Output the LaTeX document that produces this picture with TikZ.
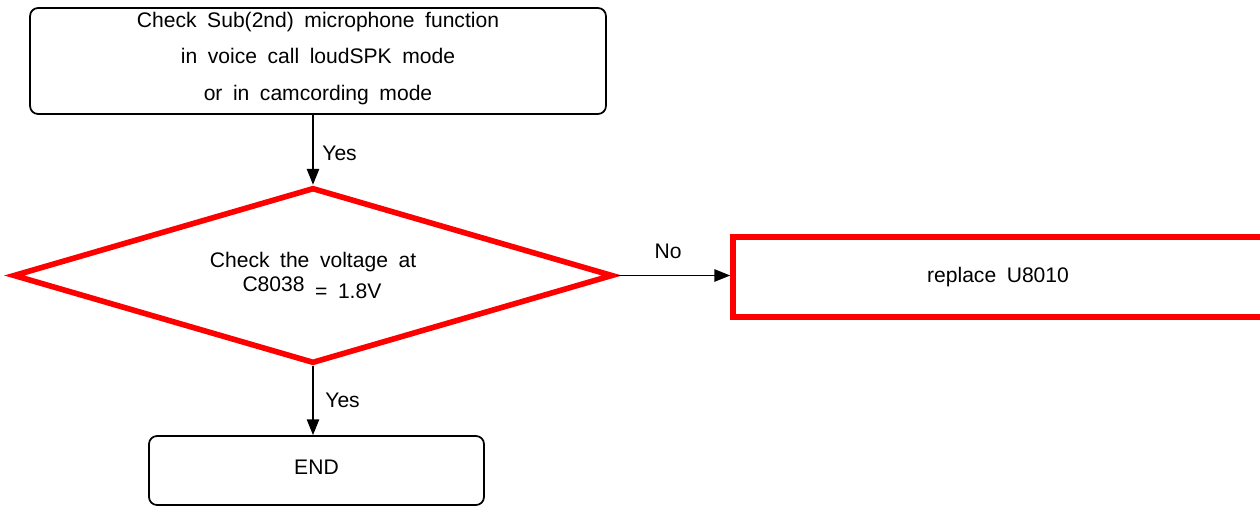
\documentclass[tikz,border=0pt]{standalone}
\usepackage{fontspec}
\setmainfont{Liberation Sans}
\usetikzlibrary{shapes.geometric,arrows.meta}
\newcommand\myfnt{\fontsize{12}{13.5}\selectfont\spaceskip 0.5em\relax}
\tikzset{
  base/.style={font=\myfnt, inner sep=0pt},
  roundbox/.style={base, draw=black, line width=1pt, rounded corners=0.16cm, align=center},
  redbox/.style={base, draw=red, line width=3.2pt},
  reddia/.style={base, diamond, draw=red, line width=3.2pt, aspect=3.48, align=center},
  arr/.style={draw=black, line width=0.9pt, -{Triangle[length=9pt,width=7pt]}},
  lbl/.style={base}
}
\begin{document}
\begin{tikzpicture}[x=0.02cm,y=-0.02cm]
\path[use as bounding box] (0,0) rectangle (1260,508);
\clip (0,0) rectangle (1260,508);
\node[roundbox, minimum width=11.52cm, minimum height=2.12cm] (top) at (318,61)
  {\raisebox{1pt}[\height][\depth]{\begin{tabular}{@{}c@{}}Check Sub(2nd) microphone function\\[7.5pt] in voice call loudSPK mode\\[7.5pt] or in camcording mode\end{tabular}}};
\node[reddia, minimum width=12.0cm, minimum height=3.52cm] (d) at (313,275.5)
  {Check the voltage at\\ \hspace*{-0.1em}C8038 \raisebox{-4pt}{= 1.8V}};
\node[redbox, minimum width=10.6cm, minimum height=1.6cm] (r) at (998,277) {replace U8010};
\node[roundbox, minimum width=6.7cm, minimum height=1.38cm] (end) at (316.5,470.5) {\raisebox{2pt}[\height][\depth]{END}};
\draw[arr] (d.north |- top.south) -- (d.north);
\draw[arr] (d.east) -- (d.east -| r.west);
\draw[arr] (d.south) -- (d.south |- end.north);
\node[lbl, anchor=west] (y1) at (322,153) {Yes};
\node[lbl] (n1) at (668,251) {No};
\node[lbl, anchor=west] (y2) at (325,400) {Yes};
\end{tikzpicture}
\end{document}
